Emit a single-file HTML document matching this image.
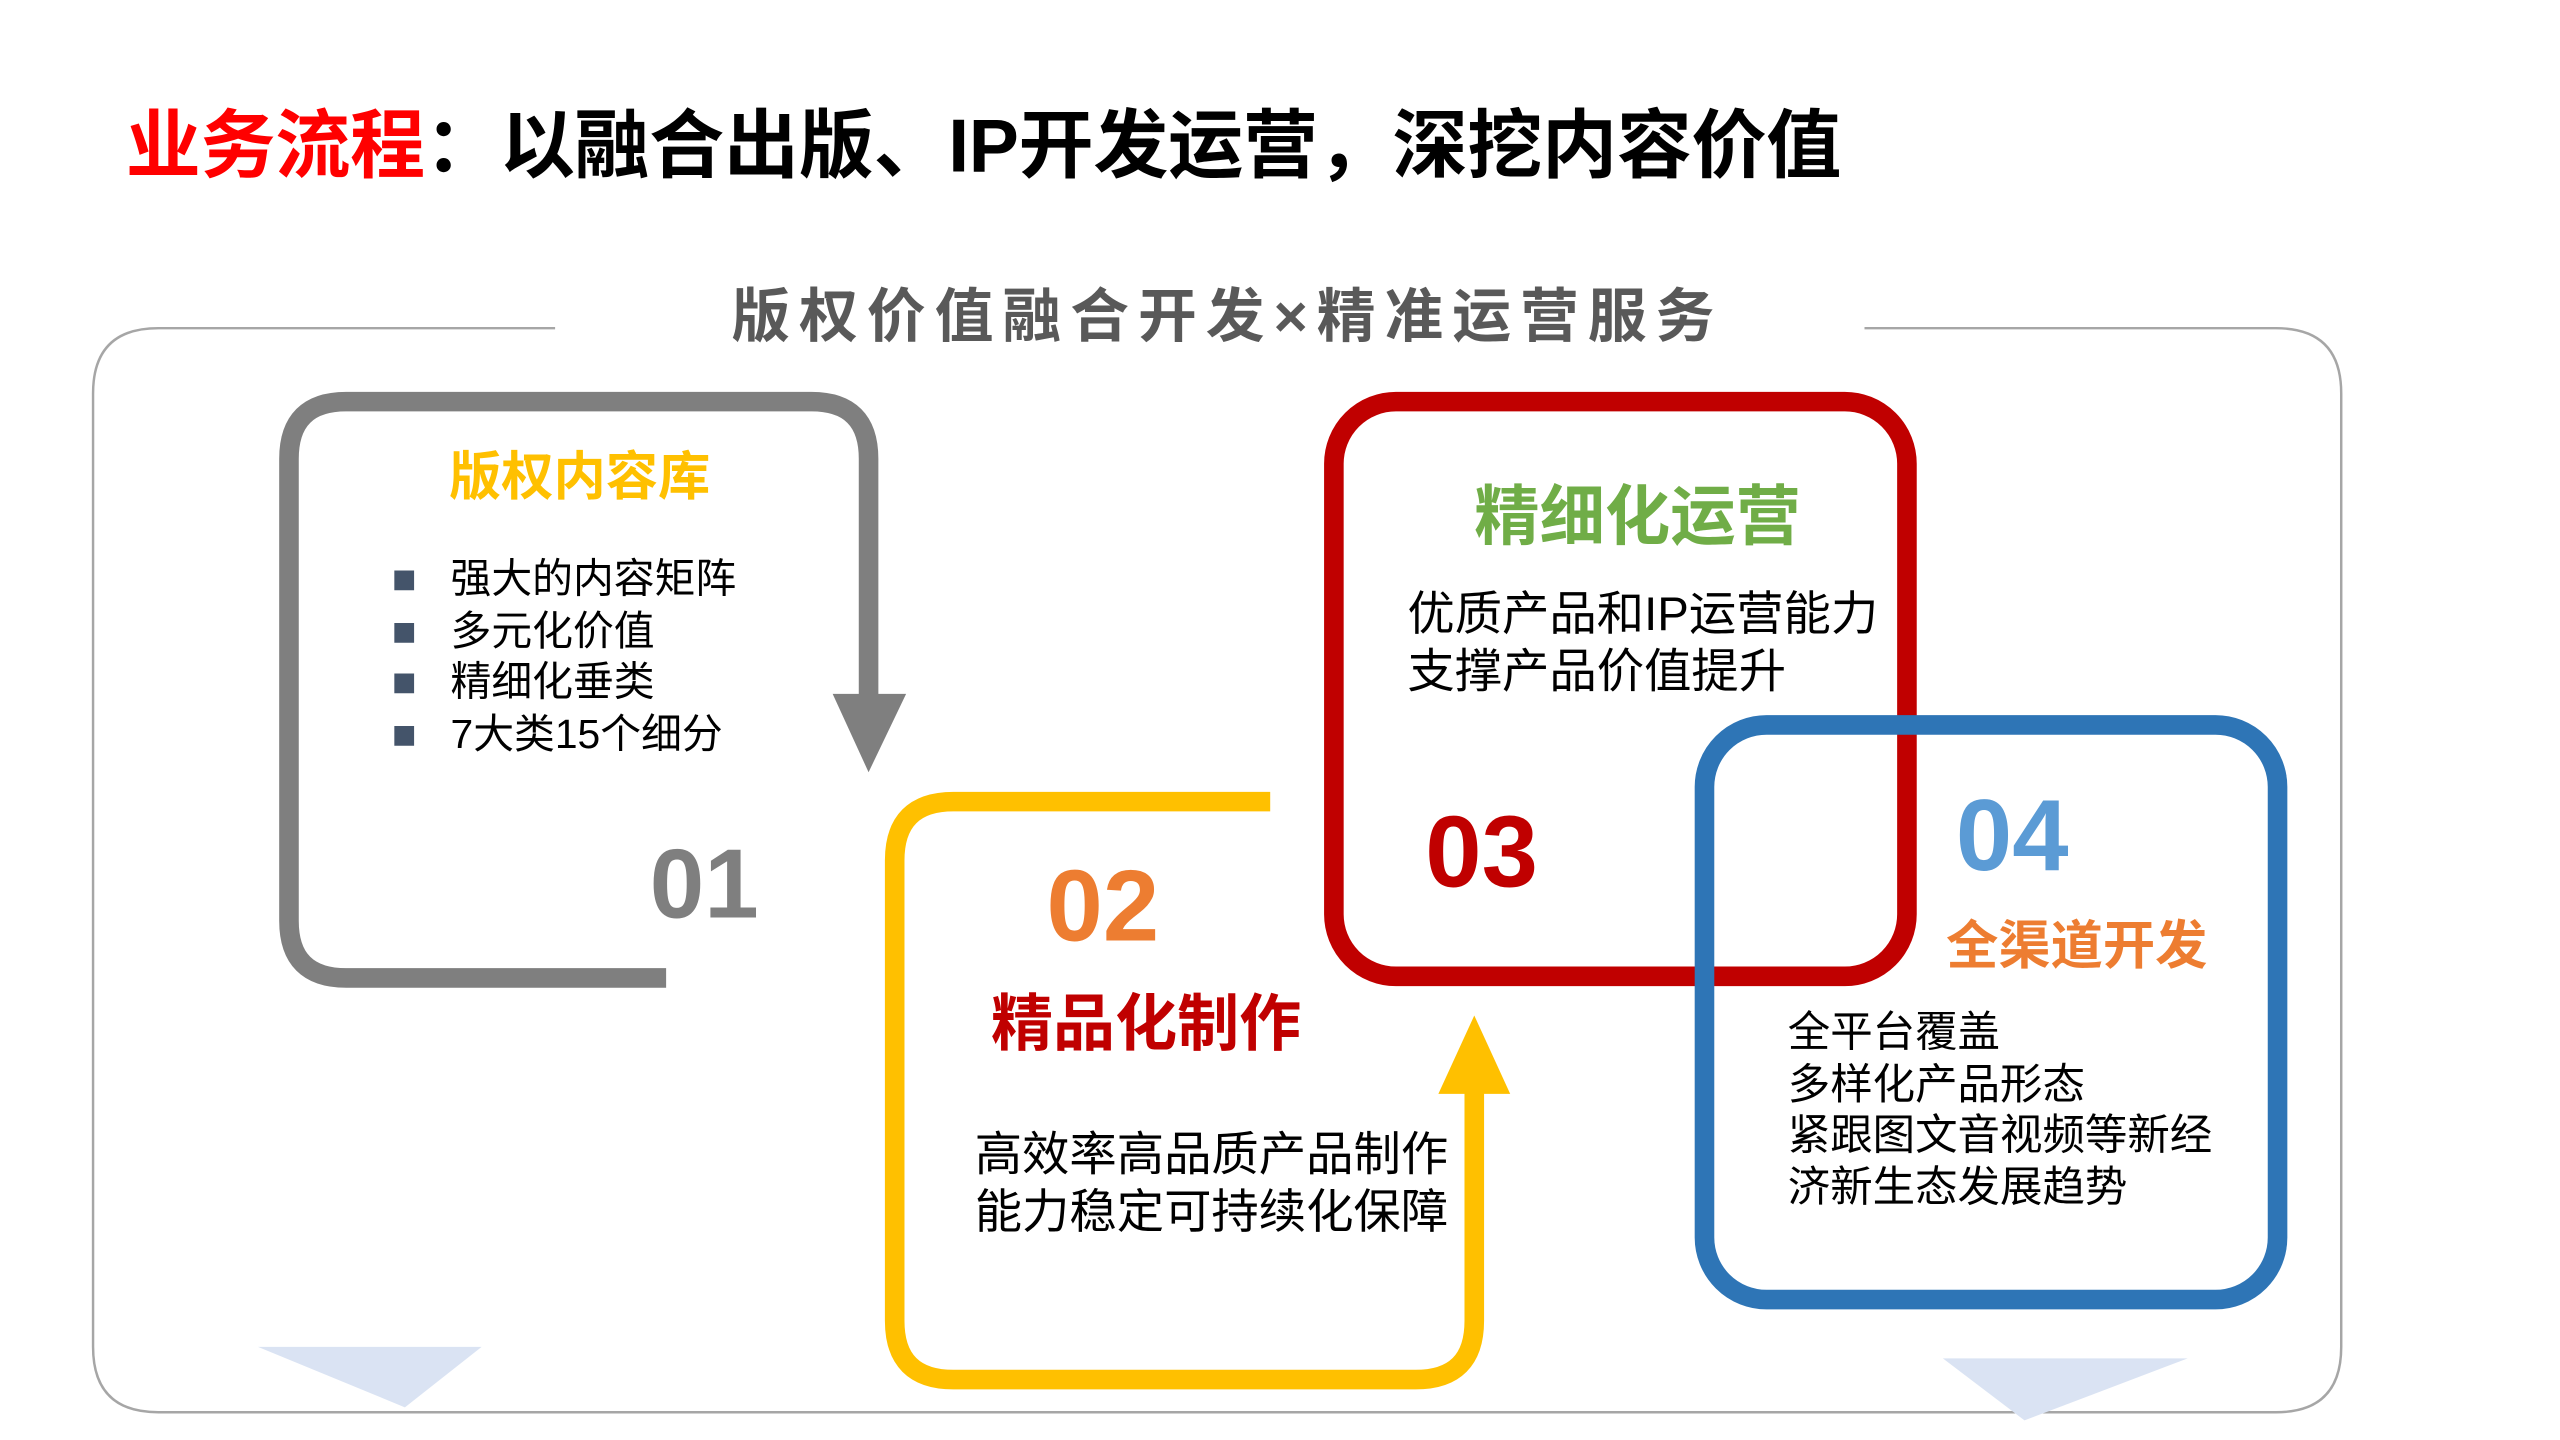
<!DOCTYPE html>
<html><head><meta charset="utf-8"><style>
html,body{margin:0;padding:0;width:2560px;height:1440px;overflow:hidden;background:#fff}
#w{position:absolute;left:0;top:0;width:1568px;height:882px;transform:scale(1.63265,1.63265);transform-origin:0 0;font-family:"Liberation Sans","Noto Sans CJK SC",sans-serif}
.t{position:absolute;white-space:nowrap;line-height:1}
.b{font-weight:bold}
</style></head><body><div id="w">
<svg width="1568" height="882" style="position:absolute;left:0;top:0">
<path d="M340 201 H97 Q57 201 57 241 V825 Q57 865 97 865 H1394 Q1434 865 1434 825 V241 Q1434 201 1394 201 H1142" fill="none" stroke="#a6a6a6" stroke-width="1.5"/>
<polygon points="158,825 295,825 248,862" fill="#dae3f3"/>
<polygon points="1190,832 1340,832 1240,870" fill="#dae3f3"/>
<path d="M408 599 H212 Q177 599 177 564 V281 Q177 246 212 246 H497 Q532 246 532 281 V430" fill="none" stroke="#7f7f7f" stroke-width="12"/>
<polygon points="510,425 555,425 532,473" fill="#7f7f7f"/>
<path d="M778 491 H584 Q548 491 548 527 V809 Q548 845 584 845 H867 Q903 845 903 809 V665" fill="none" stroke="#ffc000" stroke-width="12"/>
<polygon points="881,670 925,670 903,622" fill="#ffc000"/>
<rect x="817" y="246" width="351" height="352" rx="38" fill="none" stroke="#c00000" stroke-width="12"/>
<rect x="1044" y="444" width="351" height="352" rx="38" fill="none" stroke="#2e75b6" stroke-width="12"/>
</svg>
<div class="t b" style="left:77px;top:66px;font-size:46px;color:#000;letter-spacing:-0.2px"><span style="color:#ff0000">业务流程</span>：以融合出版、IP开发运营，深挖内容价值</div>
<div class="t b" style="left:448px;top:176px;font-size:36px;color:#595959;letter-spacing:5.5px">版权价值融合开发×精准运营服务</div>
<div class="t b" style="left:275px;top:276px;font-size:32px;color:#ffc000">版权内容库</div>
<div class="t" style="left:240px;top:340px;font-size:25px;color:#000;line-height:31.5px;white-space:pre"><span style="color:#44546a">■</span>   强大的内容矩阵
<span style="color:#44546a">■</span>   多元化价值
<span style="color:#44546a">■</span>   精细化垂类
<span style="color:#44546a">■</span>   7大类15个细分</div>
<div class="t b" style="left:398px;top:512px;font-size:60px;color:#7f7f7f">01</div>
<div class="t b" style="left:641px;top:525px;font-size:62px;color:#ed7d31">02</div>
<div class="t b" style="left:607px;top:609px;font-size:38px;color:#c00000">精品化制作</div>
<div class="t" style="left:597px;top:691px;font-size:29px;color:#000;line-height:35px">高效率高品质产品制作<br>能力稳定可持续化保障</div>
<div class="t b" style="left:903px;top:297px;font-size:40px;color:#70ad47">精细化运营</div>
<div class="t" style="left:862px;top:360px;font-size:29px;color:#000;line-height:35px">优质产品和IP运营能力<br>支撑产品价值提升</div>
<div class="t b" style="left:873px;top:492px;font-size:62px;color:#c00000">03</div>
<div class="t b" style="left:1198px;top:482px;font-size:62px;color:#5b9bd5">04</div>
<div class="t b" style="left:1192px;top:563px;font-size:32px;color:#ed7d31">全渠道开发</div>
<div class="t" style="left:1095px;top:617px;font-size:26px;color:#000;line-height:31.5px">全平台覆盖<br>多样化产品形态<br>紧跟图文音视频等新经<br>济新生态发展趋势</div>
</div></body></html>
